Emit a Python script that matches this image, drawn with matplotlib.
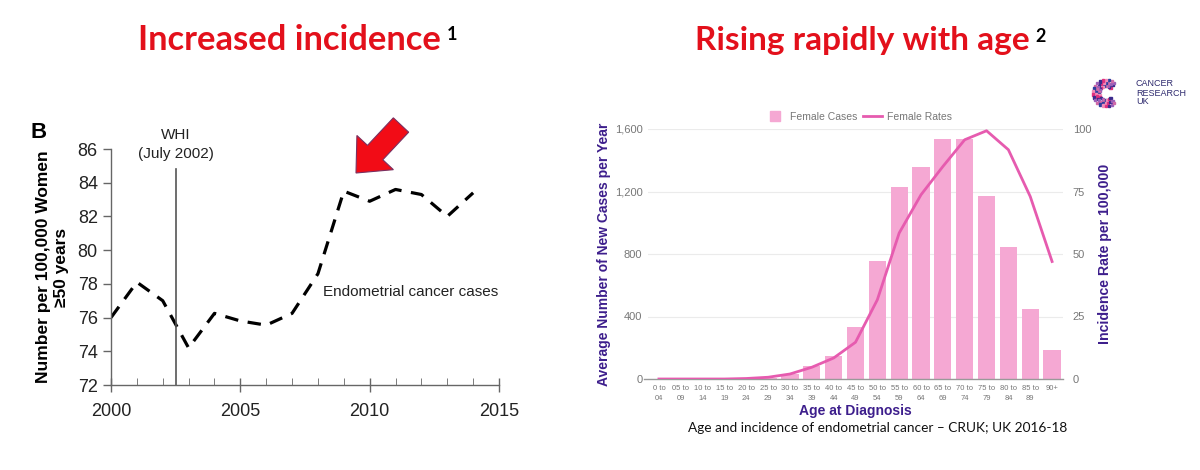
import numpy as np
import matplotlib
matplotlib.use("Agg")
import matplotlib.pyplot as plt
from matplotlib.patches import FancyArrow
from matplotlib.lines import Line2D

# ---------------- data ----------------
years = [2000, 2001, 2002, 2003, 2004, 2005, 2006, 2007, 2008, 2009, 2010, 2011, 2012, 2013, 2014]
endo_rate = [76.0, 78.1, 77.0, 74.2, 76.25, 75.8, 75.55, 76.25, 78.6, 83.5, 82.9, 83.6, 83.3, 82.0, 83.4]
whi_year = 2002.5

age_groups = ["0 to\n04", "05 to\n09", "10 to\n14", "15 to\n19", "20 to\n24", "25 to\n29",
              "30 to\n34", "35 to\n39", "40 to\n44", "45 to\n49", "50 to\n54", "55 to\n59",
              "60 to\n64", "65 to\n69", "70 to\n74", "75 to\n79", "80 to\n84", "85 to\n89", "90+"]
female_cases = [0, 0, 0, 0, 1, 5, 30, 85, 150, 333, 755, 1229, 1357, 1534, 1534, 1169, 847, 448, 188]
female_rates = [0, 0, 0, 0, 0.2, 0.7, 2.0, 4.7, 8.4, 14.7, 31.7, 58.4, 73.7, 85.0, 95.7, 99.3, 91.7, 73.0, 47.0]

W, H = 1200, 470
fig = plt.figure(figsize=(12, 4.7), dpi=100)

def fx(x):
    return x / W

def fy(y):
    return 1 - y / H

RED = "#E3101B"
PURPLE = "#3D1E8C"
PINK_BAR = "#F5A8D3"
PINK_LINE = "#E65BAF"
GRAY = "#777777"
SANS = "Liberation Sans"

# ---------------- titles ----------------
t1 = fig.text(fx(138), fy(50), "Increased incidence", color=RED, fontsize=24.8,
              fontweight="bold", family="Lato", ha="left", va="baseline")
t2 = fig.text(fx(695), fy(50), "Rising rapidly with age", color=RED, fontsize=24.0,
              fontweight="bold", family="Lato", ha="left", va="baseline")
for t, s in [(t1, "1"), (t2, "2")]:
    fig.add_artist(matplotlib.text.Annotation(
        s, xy=(1, 1), xycoords=t, xytext=(6, -2), textcoords="offset pixels",
        fontsize=13, fontweight="bold", family="Lato", color="black",
        ha="left", va="top"))

# ---------------- left chart ----------------
axL = fig.add_axes([fx(111), fy(385), fx(499) - fx(111), fy(149) - fy(385)])
axL.plot(years, endo_rate, color="black", lw=2.3, ls=(0, (4.2, 3)))
axL.set_xlim(2000, 2015)
axL.set_ylim(72, 86)
axL.set_xticks([2000, 2005, 2010, 2015])
axL.set_xticks(years[1:], minor=True)
axL.set_yticks([72, 74, 76, 78, 80, 82, 84, 86])
for s in ["top", "right"]:
    axL.spines[s].set_visible(False)
for s in ["left", "bottom"]:
    axL.spines[s].set_color("#666666")
    axL.spines[s].set_linewidth(1.0)
axL.tick_params(axis="both", labelsize=13, colors="#222222", length=6, width=1.0)
axL.tick_params(axis="x", which="major", direction="inout", length=10, color="#666666", pad=8)
axL.tick_params(axis="x", which="minor", direction="in", length=5, color="#666666")
axL.tick_params(axis="y", direction="out", length=6, color="#666666")
for lab in axL.get_xticklabels() + axL.get_yticklabels():
    lab.set_family(SANS)
axL.set_ylabel("Number per 100,000 Women\n≥50 years", fontsize=12.5, fontweight="bold",
               family=SANS, labelpad=6, linespacing=1.3)
axL.axvline(whi_year, ymin=0, ymax=(84.8 - 72) / 14, color="#555555", lw=1.2)
axL.text(whi_year, 86.85, "WHI", ha="center", va="center", fontsize=11,
         family=SANS, color="#222222", clip_on=False)
axL.text(whi_year, 85.7, "(July 2002)", ha="center", va="center", fontsize=11,
         family=SANS, color="#222222", clip_on=False)
axL.text(2008.2, 77.5, "Endometrial cancer cases", ha="left", va="center", fontsize=11,
         family=SANS, color="#222222")
fig.text(fx(30), fy(138), "B", fontsize=16, fontweight="bold", family=SANS,
         ha="left", va="baseline")

# red arrow (figure pixel coordinates)
arrow = FancyArrow(401, 470 - 125, -45, -48, width=21, head_width=50, head_length=28,
                   length_includes_head=True, transform=None, facecolor="#F20C16",
                   edgecolor="#7A3060", lw=0.8)
fig.patches.append(arrow)

# ---------------- right chart ----------------
axR = fig.add_axes([fx(648), fy(379), fx(1063) - fx(648), fy(129) - fy(379)])
x = np.arange(len(age_groups))
axR.bar(x, female_cases, width=0.79, color=PINK_BAR, zorder=2)
axR.set_xlim(-0.5, len(age_groups) - 0.5)
axR.set_ylim(0, 1600)
axR.set_yticks([0, 400, 800, 1200, 1600])
axR.set_yticklabels(["0", "400", "800", "1,200", "1,600"])
axR.grid(axis="y", color="#EBEBEB", lw=0.8, zorder=0)
for s in ["top", "right", "left"]:
    axR.spines[s].set_visible(False)
axR.spines["bottom"].set_color("#999999")
axR.spines["bottom"].set_linewidth(1.0)
axR.spines["bottom"].set_bounds(-0.7, len(age_groups) - 0.5)
axR.set_xticks(x)
axR.set_xticklabels(age_groups, fontsize=5.5, color=GRAY, linespacing=1.6, family=SANS)
axR.tick_params(axis="x", length=0, pad=4)
axR.tick_params(axis="y", length=0, labelsize=8, labelcolor=GRAY, pad=4)
for lab in axR.get_yticklabels():
    lab.set_family(SANS)
axR.set_xlabel("Age at Diagnosis", fontsize=10, fontweight="bold", color=PURPLE,
               labelpad=2, family=SANS)
axR.set_ylabel("Average Number of New Cases per Year", fontsize=10, fontweight="bold",
               color=PURPLE, labelpad=3, family=SANS)

axR2 = axR.twinx()
axR2.plot(x, female_rates, color=PINK_LINE, lw=2.0, zorder=3)
axR2.set_ylim(0, 100)
axR2.set_yticks([0, 25, 50, 75, 100])
for s in ["top", "right", "left", "bottom"]:
    axR2.spines[s].set_visible(False)
axR2.tick_params(axis="y", length=0, labelsize=8, labelcolor=GRAY, pad=7)
for lab in axR2.get_yticklabels():
    lab.set_family(SANS)
axR2.set_ylabel("Incidence Rate per 100,000", fontsize=10.2, fontweight="bold",
                color=PURPLE, labelpad=5, family=SANS)

handles = [Line2D([], [], ls="none", marker="s", markersize=7, color=PINK_BAR),
           Line2D([], [], color=PINK_LINE, lw=2.0)]
fig.legend(handles, ["Female Cases", "Female Rates"], loc="center",
           bbox_to_anchor=(fx(859), fy(117)), ncol=2,
           frameon=False, prop={"family": SANS, "size": 7.5}, labelcolor=GRAY,
           handlelength=1.8, columnspacing=0.6, handletextpad=0.5)

fig.text(fx(688), fy(428), "Age and incidence of endometrial cancer \u2013 CRUK; UK 2016-18",
         fontsize=9.8, family="Lato", ha="left", va="center", color="#111111")

# ---------------- logo ----------------
ang = np.linspace(np.deg2rad(50), np.deg2rad(310), 20)
cx, cy, r = 1106, 93, 10
logo_cols = ["#E0307F", "#3A2A8C", "#9B5FB8", "#D06AA8", "#2D3E9E", "#F08CB8"]
for i, a in enumerate(ang):
    for j, dr in enumerate([-3, 0, 3]):
        px = cx + (r + dr) * np.cos(a)
        py = cy - (r + dr) * np.sin(a)
        fig.patches.append(plt.Rectangle((px - 1.1, H - py - 1.1), 2.2, 2.2, transform=None,
                                         color=logo_cols[(i + j) % len(logo_cols)]))
fig.text(fx(1136), fy(93), "CANCER\nRESEARCH\nUK", fontsize=6.5, color="#2E2A6E",
         ha="left", va="center", linespacing=1.0, family=SANS)

fig.savefig("out.png", dpi=100)
